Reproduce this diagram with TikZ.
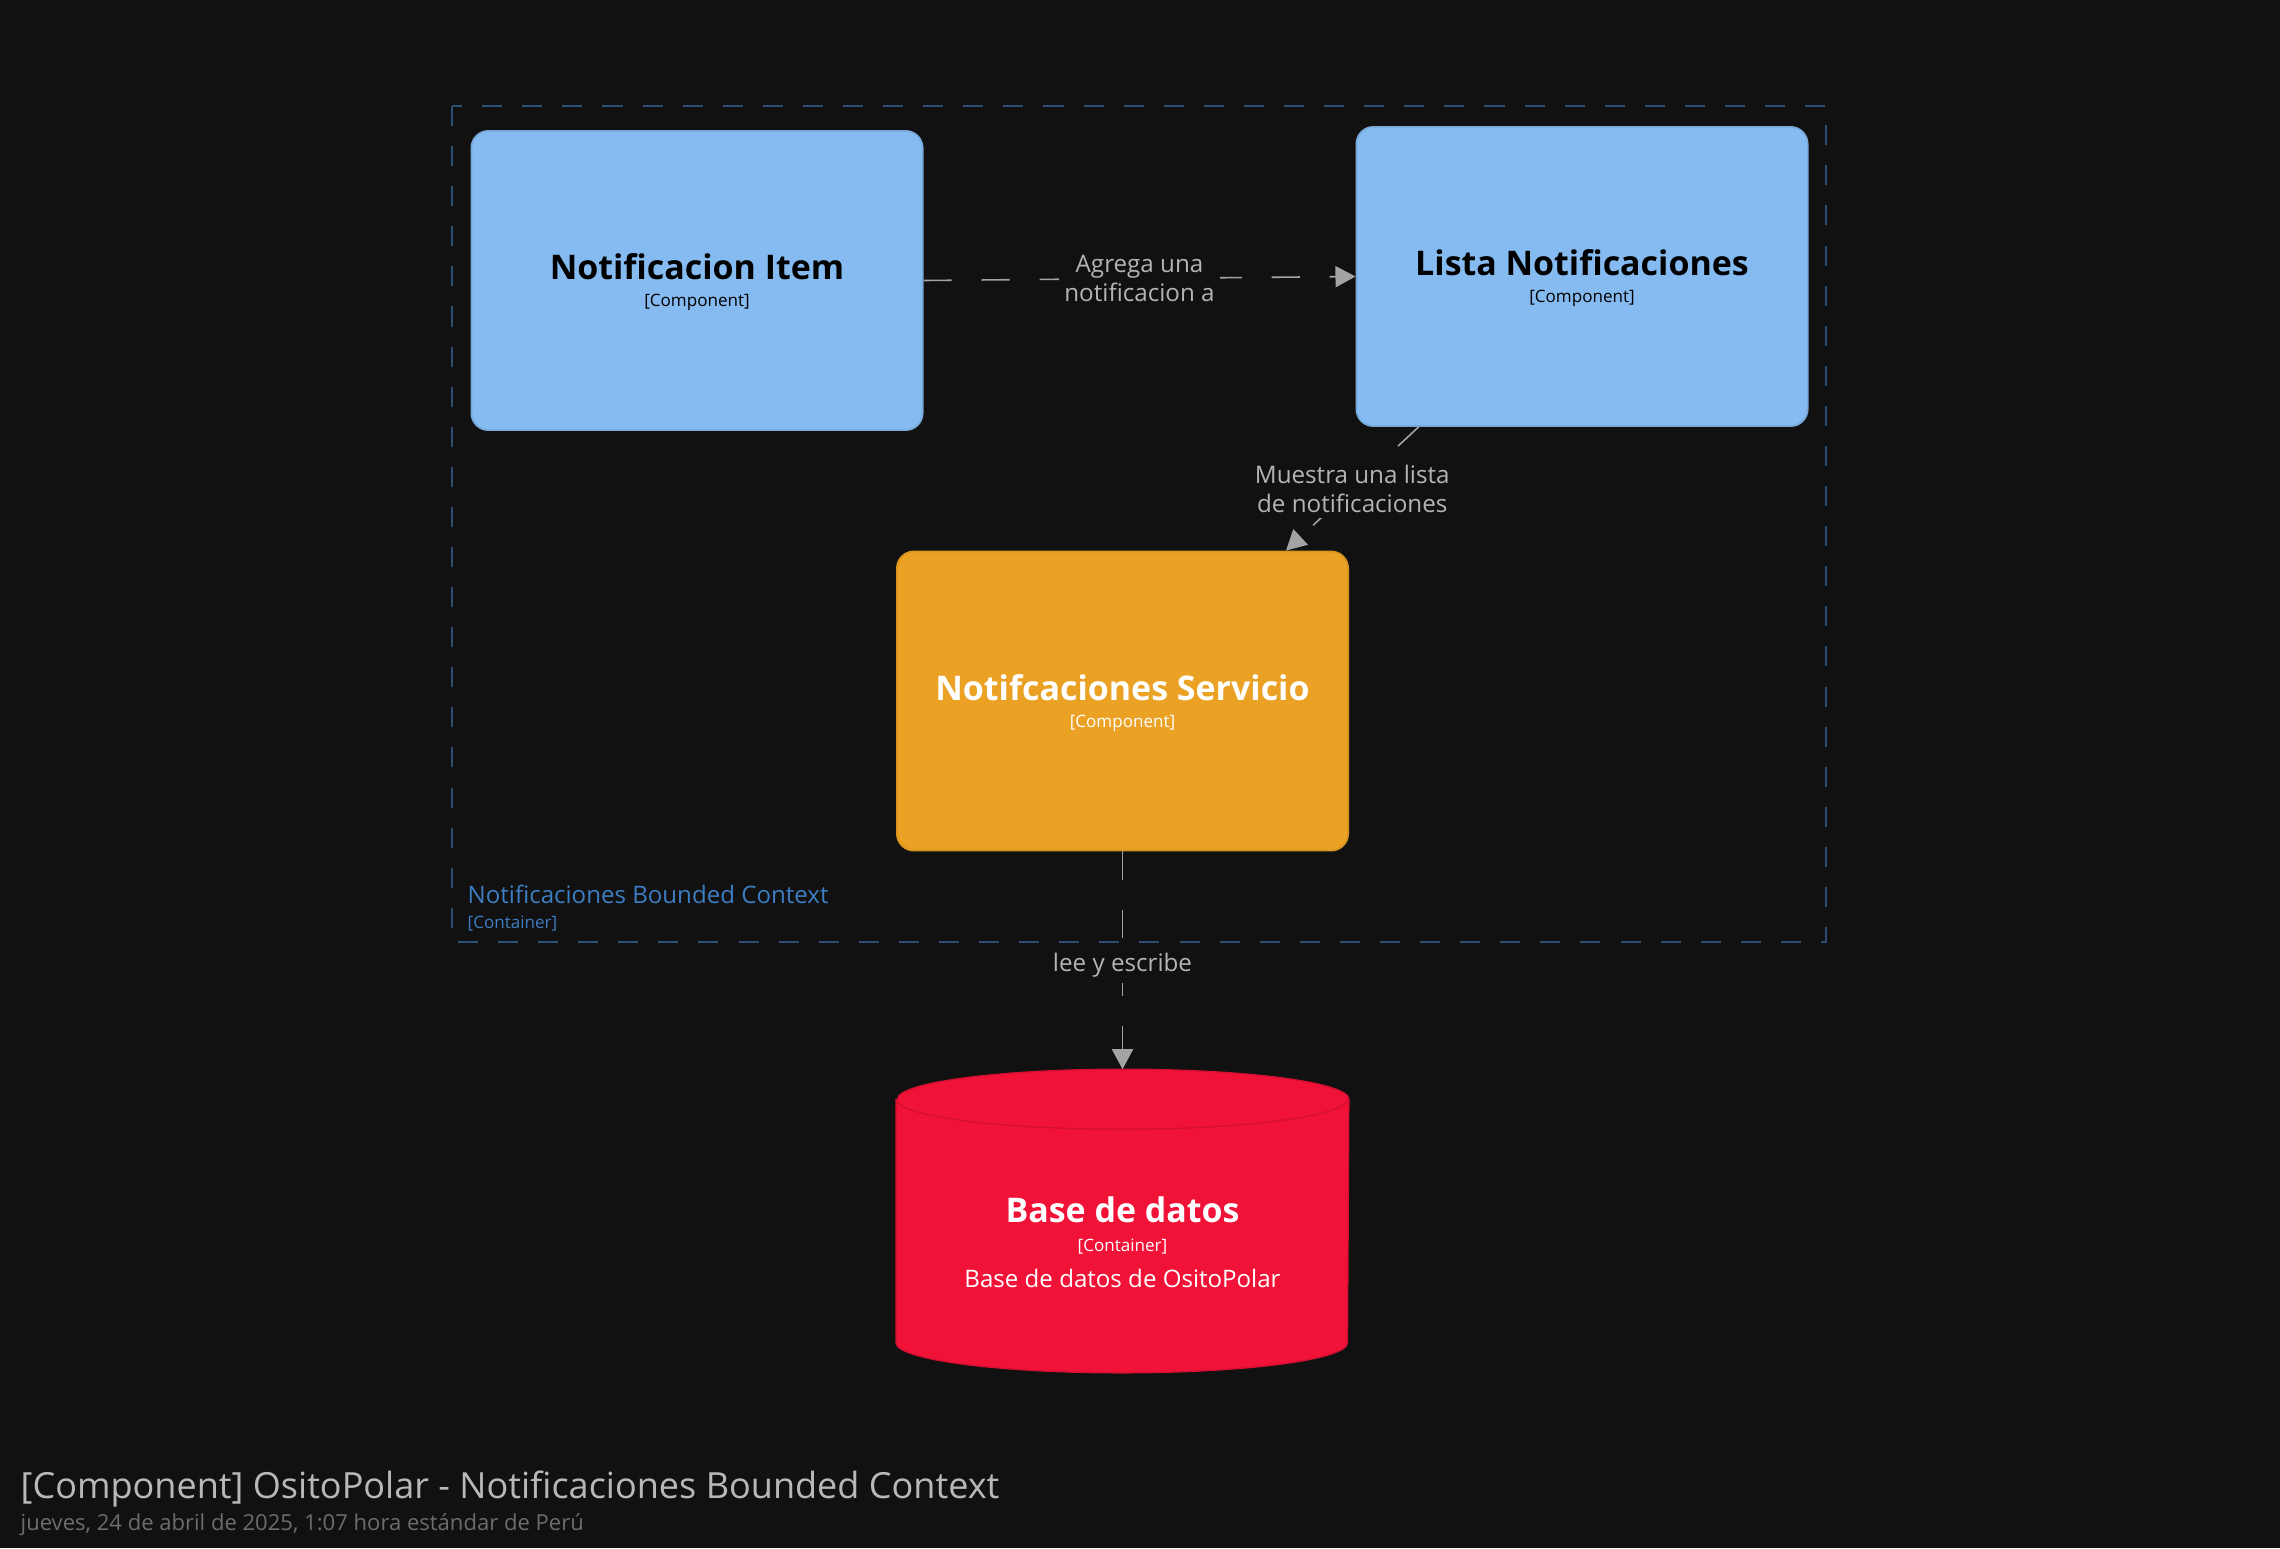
\documentclass[tikz,border=0pt]{standalone}
\usepackage{fontspec}
\setmainfont{Open Sans}
\usetikzlibrary{arrows.meta}

\definecolor{bgdark}{HTML}{111111}
\definecolor{compblue}{HTML}{85BBF0}
\definecolor{compline}{HTML}{78A9DA}
\definecolor{servorange}{HTML}{EAA124}
\definecolor{servline}{HTML}{D99420}
\definecolor{dbred}{HTML}{F11238}
\definecolor{dbline}{HTML}{D60F32}
\definecolor{ctxblue}{HTML}{2C4E74}
\definecolor{ctxtext}{HTML}{3D7DC2}
\definecolor{edgegray}{HTML}{A3A3A3}
\definecolor{labelgray}{HTML}{B4B4B4}

\begin{document}
\begin{tikzpicture}[x=0.01cm,y=-0.01cm,
    comp/.style={rounded corners=0.17cm,line width=0.5pt,minimum width=4.51cm,minimum height=2.99cm,inner sep=0pt},
    ctitle/.style={anchor=base,font=\fontsize{9.65}{10}\selectfont\bfseries},
    ctype/.style={anchor=base,font=\fontsize{4.85}{6}\selectfont},
    rel/.style={draw=edgegray,line width=0.45pt,dash pattern=on 8pt off 8.5pt,-{Triangle[length=5.7pt,width=6pt]}},
    lbl/.style={fill=bgdark,text=labelgray,font=\fontsize{6.88}{8.25}\selectfont,align=center,inner sep=1.5pt}]
    \fill[bgdark] (0,0) rectangle (2280,1548);
    \useasboundingbox (0,0) rectangle (2280,1548);

    % bounded context
    \draw[ctxblue,line width=0.5pt,dash pattern=on 5.7pt off 5.7pt] (452,106) rectangle (1826,942);
    \node[anchor=base west,text=ctxtext,font=\fontsize{6.85}{8}\selectfont,inner sep=0pt] (ctxname) at (467,903) {Notificaciones Bounded Context};
    \node[anchor=base west,text=ctxtext,font=\fontsize{4.85}{6}\selectfont,inner sep=0pt] (ctxtype) at (467,928) {[Container]};

    % components
    \node[comp,fill=compblue,draw=compline] (item) at (697,280.5) {};
    \node[ctitle,text=black] (itemname) at ([yshift=0.01cm]item.center) {Notificacion Item};
    \node[ctype,text=black] (itemtype) at ([yshift=-0.26cm]item.center) {[Component]};

    \node[comp,fill=compblue,draw=compline] (lista) at (1582,276.5) {};
    \node[ctitle,text=black] (listaname) at ([yshift=0.01cm]lista.center) {Lista Notificaciones};
    \node[ctype,text=black] (listatype) at ([yshift=-0.26cm]lista.center) {[Component]};

    \node[comp,fill=servorange,draw=servline] (serv) at (1122.5,701) {};
    \node[ctitle,text=white] (servname) at ([yshift=0.01cm]serv.center) {Notifcaciones Servicio};
    \node[ctype,text=white] (servtype) at ([yshift=-0.26cm]serv.center) {[Component]};

    % database
    \node[minimum width=4.51cm,minimum height=3.02cm,inner sep=0pt] (db) at (1122.5,1221) {};
    \fill[dbred,draw=dbline,line width=0.4pt] ([yshift=-0.3cm]db.north west) -- ([yshift=0.3cm]db.south west)
        arc[start angle=180,end angle=360,x radius=2.255cm,y radius=0.3cm] -- ([yshift=-0.3cm]db.north east)
        arc[start angle=0,end angle=180,x radius=2.255cm,y radius=0.3cm] -- cycle;
    \draw[dbline,line width=0.4pt] ([yshift=-0.3cm]db.north west) arc[start angle=180,end angle=360,x radius=2.255cm,y radius=0.3cm];
    \node[ctitle,text=white] (dbname) at ([yshift=-0.01cm]db.center) {Base de datos};
    \node[ctype,text=white] (dbtype) at ([yshift=-0.3cm]db.center) {[Container]};
    \node[anchor=base,text=white,font=\fontsize{6.85}{8}\selectfont] (dbdesc) at ([yshift=-0.66cm]db.center) {Base de datos de OsitoPolar};

    % relations
    \draw[rel] (item.east) -- (lista.west) node[lbl,midway] (l1) {Agrega una\\notificacion a};
    \draw[rel] ([xshift=0.63cm]lista.south west) -- ([xshift=-0.63cm]serv.north east) node[lbl,midway] (l2) {Muestra una lista\\de notificaciones};
    \draw[rel] (serv.south) -- (db.north) node[lbl,midway,yshift=-0.05cm] (l3) {lee y escribe};

    % title
    \node[anchor=base west,text=labelgray!95!white,font=\fontsize{10.25}{12}\selectfont,inner sep=0pt] (title) at (20,1498) {[Component] OsitoPolar - Notificaciones Bounded Context};
    \node[anchor=base west,text=gray!85!black,font=\fontsize{6.27}{7.5}\selectfont,inner sep=0pt] (date) at (20,1530) {jueves, 24 de abril de 2025, 1:07 hora estándar de Perú};
\end{tikzpicture}
\end{document}
